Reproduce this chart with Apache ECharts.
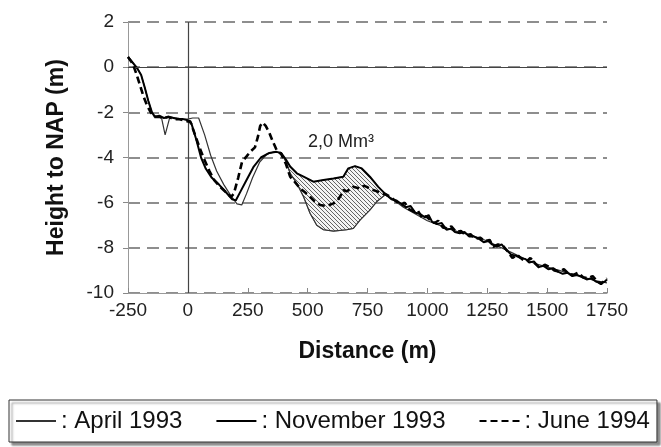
<!DOCTYPE html>
<html><head><meta charset="utf-8">
<script src="https://cdn.jsdelivr.net/npm/echarts@6/dist/echarts.min.js"></script>
<style>html,body{margin:0;padding:0;background:#fff}#c{width:661px;height:447px}</style>
</head><body><div id="c"></div>
<script>
// [distance (m), height to NAP (m)]
const april1993 = [
  [-250,0.45],[-232,0.2],[-212,0.0],[-195,-0.35],[-180,-0.9],[-165,-1.5],[-150,-2.0],[-140,-2.15],
  [-125,-2.2],[-110,-2.25],[-95,-3.0],[-75,-2.2],[-50,-2.25],[-25,-2.3],[0,-2.3],[20,-2.25],[45,-2.25],
  [70,-3.0],[95,-3.9],[120,-4.6],[150,-5.2],[180,-5.7],[205,-6.05],[225,-6.1],[245,-5.6],[270,-4.9],
  [300,-4.2],[330,-3.85],[360,-3.75],[390,-3.8],
  [410,-4.2],[427,-4.7],[455,-5.15],[483,-5.74],[510,-6.47],[538,-7.0],[566,-7.2],[608,-7.26],
  [663,-7.2],[691,-7.14],[719,-6.77],[760,-6.33],[788,-5.96],[823,-5.66],[850,-5.8],
  [900,-6.2],[950,-6.5],[1000,-6.8],[1050,-7.0],[1100,-7.2],[1150,-7.35],[1200,-7.5],[1250,-7.7],
  [1300,-7.95],[1350,-8.2],[1400,-8.45],[1450,-8.7],[1500,-8.85],[1550,-9.0],[1600,-9.15],
  [1650,-9.3],[1700,-9.45],[1750,-9.55]
];
const november1993 = [
  [-250,0.45],[-230,0.2],[-212,-0.05],[-195,-0.35],[-180,-0.9],[-165,-1.5],[-150,-2.0],[-138,-2.2],
  [-120,-2.15],[-100,-2.25],[-80,-2.2],[-60,-2.25],[-40,-2.3],[-20,-2.3],[0,-2.35],[15,-2.5],
  [35,-3.2],[55,-4.0],[75,-4.5],[100,-4.9],[130,-5.2],[160,-5.55],[185,-5.85],[200,-5.9],
  [220,-5.5],[245,-5.0],[275,-4.4],[305,-4.0],[340,-3.8],[370,-3.75],[390,-3.8],
  [410,-4.1],[427,-4.4],[455,-4.7],[483,-4.85],[524,-5.07],[566,-5.0],[608,-4.93],[649,-4.85],
  [670,-4.48],[698,-4.38],[726,-4.48],[760,-4.85],[795,-5.3],[823,-5.6],[850,-5.85],
  [870,-5.9],[890,-6.05],[910,-6.2],[930,-6.15],[950,-6.45],[970,-6.5],[990,-6.65],[1005,-6.55],
  [1020,-6.85],[1040,-6.95],[1060,-6.9],[1080,-7.2],[1100,-7.15],[1115,-7.3],[1135,-7.35],
  [1155,-7.3],[1175,-7.5],[1195,-7.5],[1215,-7.6],[1235,-7.75],[1255,-7.7],[1270,-7.85],
  [1290,-7.95],[1310,-7.85],[1330,-8.1],[1350,-8.3],[1370,-8.35],[1390,-8.45],[1410,-8.5],
  [1425,-8.65],[1445,-8.6],[1465,-8.85],[1485,-8.8],[1505,-8.95],[1525,-8.9],[1545,-9.05],
  [1565,-9.15],[1585,-9.1],[1605,-9.25],[1625,-9.2],[1645,-9.3],[1665,-9.4],[1685,-9.35],
  [1705,-9.5],[1725,-9.55],[1740,-9.5],[1750,-9.4]
];
const june1994 = [
  [-250,0.45],[-230,0.15],[-215,-0.3],[-200,-0.8],[-185,-1.3],[-170,-1.7],[-155,-2.0],[-140,-2.2],
  [-120,-2.2],[-100,-2.25],[-80,-2.2],[-60,-2.3],[-40,-2.3],[-20,-2.35],[0,-2.4],[10,-2.4],
  [30,-3.0],[50,-3.6],[65,-4.0],[90,-4.6],[110,-5.0],[135,-5.3],[160,-5.55],[180,-5.75],
  [192,-5.6],[210,-4.9],[226,-4.2],[245,-3.95],[260,-3.75],[280,-3.55],[292,-3.1],[302,-2.6],
  [312,-2.45],[325,-2.6],[340,-2.9],[355,-3.3],[372,-3.7],[390,-3.85],
  [410,-4.3],[427,-4.85],[448,-5.1],[469,-5.37],[490,-5.55],[510,-5.74],[530,-5.95],[552,-6.1],
  [580,-6.15],[608,-6.03],[625,-5.9],[640,-5.65],[649,-5.44],[663,-5.5],[677,-5.41],[690,-5.3],
  [698,-5.22],[710,-5.35],[719,-5.37],[735,-5.25],[747,-5.3],[760,-5.38],[774,-5.44],[790,-5.5],
  [809,-5.59],[825,-5.62],[844,-5.74],
  [870,-5.95],[890,-6.1],[905,-6.0],[925,-6.3],[945,-6.4],[960,-6.35],[980,-6.7],[995,-6.6],
  [1010,-6.75],[1030,-6.9],[1045,-6.8],[1065,-7.1],[1085,-7.15],[1100,-7.05],[1120,-7.3],
  [1140,-7.25],[1160,-7.45],[1180,-7.4],[1200,-7.6],[1220,-7.55],[1240,-7.7],[1260,-7.65],
  [1275,-7.95],[1295,-7.85],[1315,-7.9],[1335,-8.15],[1355,-8.45],[1375,-8.3],[1395,-8.5],
  [1415,-8.6],[1430,-8.45],[1450,-8.7],[1470,-8.9],[1490,-8.75],[1510,-8.85],[1530,-9.0],
  [1550,-9.05],[1570,-8.95],[1590,-9.15],[1610,-9.2],[1630,-9.1],[1650,-9.3],[1670,-9.35],
  [1690,-9.25],[1710,-9.5],[1725,-9.6],[1740,-9.45],[1750,-9.35]
];
const hatchRange = [390, 850];   // distance range of the hatched 2,0 Mm³ volume
const seriesNames = ['April 1993', 'November 1993', 'June 1994'];
const xTickLabels = ['-250','0','250','500','750','1000','1250','1500','1750'];
const yTickLabels = ['-10','-8','-6','-4','-2','0','2'];
const annotation = '2,0 Mm³';

const FONT = '"Liberation Sans", Arial, sans-serif';

// hatch pattern
const pc = document.createElement('canvas');
pc.width = 4; pc.height = 4;
const g = pc.getContext('2d');
g.fillStyle = '#f4f4f4'; g.fillRect(0,0,4,4);
g.strokeStyle = '#555'; g.lineWidth = 0.9;
g.beginPath();
g.moveTo(-1,-1); g.lineTo(5,5);
g.moveTo(-1,3); g.lineTo(1,5);
g.moveTo(3,-1); g.lineTo(5,1);
g.stroke();
const hatchPattern = { image: pc, repeat: 'repeat' };

function inRange(p){ return p[0] >= hatchRange[0] && p[0] <= hatchRange[1]; }

const chart = echarts.init(document.getElementById('c'), null, {renderer: 'canvas'});
chart.setOption({
  animation: false,
  backgroundColor: '#fff',
  textStyle: { fontFamily: FONT },
  grid: { left: 128, right: 54, top: 22, bottom: 154, outerBoundsMode: 'none' },
  xAxis: {
    type: 'value', min: -250, max: 1750, interval: 250,
    name: 'Distance (m)', nameLocation: 'middle', nameGap: 47,
    nameTextStyle: { fontSize: 23, fontWeight: 'bold', color: '#111', fontFamily: FONT },
    axisLine: { show: true, onZero: false, lineStyle: { color: '#999', width: 1 } },
    axisTick: { show: true, inside: true, length: 5, lineStyle: { color: '#888' } },
    axisLabel: { fontSize: 19, color: '#222', margin: 8, fontFamily: FONT,
      formatter: (v) => xTickLabels[Math.round((v + 250) / 250)] },
    splitLine: { show: false }
  },
  yAxis: [{
    type: 'value', min: -10, max: 2, interval: 2,
    name: 'Height to NAP (m)', nameLocation: 'middle', nameGap: 60,
    nameTextStyle: { fontSize: 23, fontWeight: 'bold', color: '#111', fontFamily: FONT },
    axisLine: { show: true, onZero: false, lineStyle: { color: '#999', width: 1 } },
    axisTick: { show: true, inside: false, length: 5, lineStyle: { color: '#888' } },
    axisLabel: { fontSize: 19, color: '#222', margin: 14, fontFamily: FONT,
      formatter: (v) => yTickLabels[Math.round((v + 10) / 2)] },
    splitLine: { show: true, lineStyle: { color: '#6a6a6a', width: 1.5, type: [12, 7] } }
  }, {
    type: 'value', min: -10, max: 2, interval: 2, position: 'right',
    axisLine: { show: true, lineStyle: { color: '#aaa', width: 1 } },
    axisTick: { show: false }, axisLabel: { show: false }, splitLine: { show: false }
  }],
  legend: {
    data: seriesNames,
    left: 9, top: 400,
    orient: 'horizontal',
    padding: [9, 7, 9, 6],
    itemGap: 33, itemWidth: 40, itemHeight: 14,
    backgroundColor: '#fff', borderColor: '#333', borderWidth: 1,
    shadowColor: 'rgba(0,0,0,0.45)', shadowBlur: 2, shadowOffsetX: 3, shadowOffsetY: 3,
    itemStyle: { color: 'rgba(0,0,0,0)', borderColor: 'rgba(0,0,0,0)', borderWidth: 0, opacity: 0 },
    formatter: (n) => ': ' + n,
    textStyle: { fontSize: 24, color: '#111', fontFamily: FONT, padding: [0,0,0,0] },
    selectedMode: false
  },
  graphic: [{
    type: 'text', left: 308, top: 133, silent: true,
    style: { text: annotation, font: '18px ' + FONT, fill: '#222' }
  }],
  series: [
    {
      name: 'hatch', type: 'custom', coordinateSystem: 'cartesian2d', z: 1,
      silent: true, clip: true,
      data: [[hatchRange[0], -3.8]],
      renderItem: function (params, api) {
        const top = november1993.filter(inRange).map(p => api.coord(p));
        const bot = april1993.filter(inRange).map(p => api.coord(p)).reverse();
        return { type: 'polygon', shape: { points: top.concat(bot) },
          style: { fill: hatchPattern, stroke: '#555', lineWidth: 0.8 } };
      }
    },
    {
      name: seriesNames[0], type: 'line', data: april1993, symbol: 'none', z: 3,
      lineStyle: { color: '#333', width: 1.2 }, itemStyle: { color: '#333' },
      markLine: {
        silent: true, symbol: 'none', label: { show: false },
        lineStyle: { color: '#444', width: 1.2, type: 'solid' },
        data: [{ yAxis: 0 }, { xAxis: 0 }]
      }
    },
    {
      name: seriesNames[1], type: 'line', data: november1993, symbol: 'none', z: 4,
      lineStyle: { color: '#000', width: 2 }, itemStyle: { color: '#000' }
    },
    {
      name: seriesNames[2], type: 'line', data: june1994, symbol: 'none', z: 5,
      lineStyle: { color: '#000', width: 2.6, type: [7, 4] }, itemStyle: { color: '#000' }
    }
  ]
});
</script>
</body></html>
